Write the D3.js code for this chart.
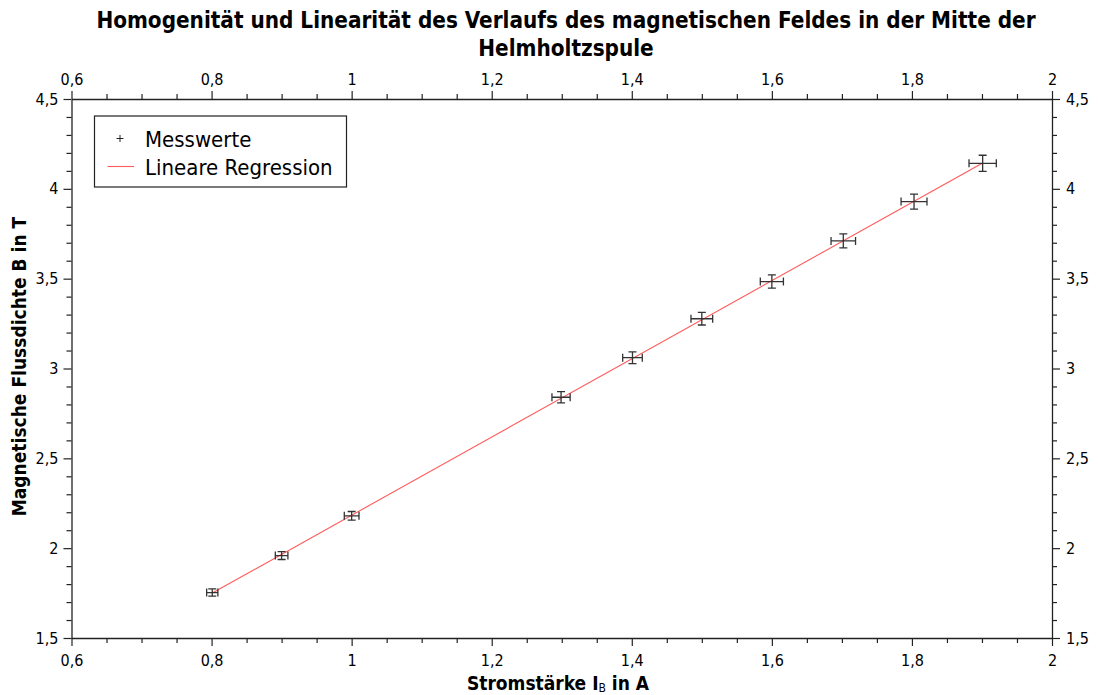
<!DOCTYPE html>
<html>
<head>
<meta charset="utf-8">
<script src="https://cdn.jsdelivr.net/npm/d3@7"></script>
<style>
  body { margin: 0; background: #fff; }
  svg { display: block; }
  text { font-family: "DejaVu Sans Condensed", "DejaVu Sans", sans-serif; fill: #000; }
</style>
</head>
<body>
<svg id="chart" width="1098" height="695"></svg>
<script>
// Measured current I_B (A) and magnetic flux density B (T) with uncertainties
const current     = [0.801, 0.900, 1.000, 1.299, 1.401, 1.500, 1.600, 1.702, 1.803, 1.901];
const fluxDensity = [1.753, 1.959, 2.180, 2.840, 3.060, 3.277, 3.484, 3.710, 3.929, 4.142];
const currentErr  = [0.008, 0.009, 0.0105, 0.013, 0.014, 0.0155, 0.0165, 0.0175, 0.0185, 0.0195];
const fluxErr     = [0.020, 0.022, 0.024, 0.031, 0.033, 0.035, 0.037, 0.039, 0.042, 0.045];

const xMajorTicks = [0.6, 0.8, 1.0, 1.2, 1.4, 1.6, 1.8, 2.0];
const yMajorTicks = [1.5, 2.0, 2.5, 3.0, 3.5, 4.0, 4.5];
const xDomain = [0.6, 2.0];
const yDomain = [1.5, 4.5];

const titleLines = [
  "Homogenität und Linearität des Verlaufs des magnetischen Feldes in der Mitte der",
  "Helmholtzspule"
];
const legendLabels = ["Messwerte", "Lineare Regression"];

const svg = d3.select("#chart");
const plot = { left: 71.5, right: 1052, top: 99, bottom: 638 };

const x = d3.scaleLinear().domain(xDomain).range([plot.left, plot.right]);
const y = d3.scaleLinear().domain(yDomain).range([plot.bottom, plot.top]);

const de = d3.formatLocale({ decimal: ",", thousands: ".", grouping: [3], currency: ["", " €"] });
const fmt = v => de.format("~g")(+v.toFixed(2));

const xMinor = d3.range(12, 41).map(i => i * 0.05).filter(v => !xMajorTicks.some(t => Math.abs(t - v) < 1e-9));
const yMinor = d3.range(15, 46).map(i => i * 0.1).filter(v => !yMajorTicks.some(t => Math.abs(t - v) < 1e-9));

function styleAxis(g) {
  g.selectAll("path.domain").attr("stroke", "#222").attr("stroke-width", 1.3);
  g.selectAll(".tick line").attr("stroke", "#222").attr("stroke-width", 1.2);
  g.selectAll(".tick text").style("font-size", "16px").attr("fill", "#111");
}

function drawAxis(axisFn, scale, major, minor, transform, pad) {
  const gMinor = svg.append("g").attr("transform", transform)
    .call(axisFn(scale).tickValues(minor).tickSize(5).tickSizeOuter(0).tickFormat(""));
  gMinor.select("path.domain").remove();
  styleAxis(gMinor);
  const g = svg.append("g").attr("transform", transform)
    .call(axisFn(scale).tickValues(major).tickSize(8).tickSizeOuter(0).tickPadding(pad).tickFormat(fmt));
  styleAxis(g);
  return g;
}

drawAxis(d3.axisBottom, x, xMajorTicks, xMinor, `translate(0,${plot.bottom})`, 9);
drawAxis(d3.axisTop, x, xMajorTicks, xMinor, `translate(0,${plot.top})`, 6);
drawAxis(d3.axisLeft, y, yMajorTicks, yMinor, `translate(${plot.left},0)`, 5);
drawAxis(d3.axisRight, y, yMajorTicks, yMinor, `translate(${plot.right},0)`, 6);

// Least-squares fit through the measured points
const mx = d3.mean(current), my = d3.mean(fluxDensity);
const slope = d3.sum(current, (v, i) => (v - mx) * (fluxDensity[i] - my)) / d3.sum(current, v => (v - mx) ** 2);
const intercept = my - slope * mx;
const fitExtent = d3.extent(current);

svg.append("path")
  .datum(fitExtent.map(v => [v, intercept + slope * v]))
  .attr("d", d3.line().x(d => x(d[0])).y(d => y(d[1])))
  .attr("fill", "none")
  .attr("stroke", "#ff5a5a")
  .attr("stroke-width", 1.1);

// Error bars
const points = current.map((v, i) => ({ i: v, b: fluxDensity[i], di: currentErr[i], db: fluxErr[i] }));
const cap = 4;
const eb = svg.append("g").attr("stroke", "#333").attr("stroke-width", 1.3).attr("fill", "none");
const pt = eb.selectAll("g").data(points).join("g");
pt.append("path").attr("d", d => {
  const x0 = x(d.i - d.di), x1 = x(d.i + d.di), yc = y(d.b);
  return `M${x0},${yc}H${x1}M${x0},${yc - cap}V${yc + cap}M${x1},${yc - cap}V${yc + cap}`;
});
pt.append("path").attr("d", d => {
  const y0 = y(d.b - d.db), y1 = y(d.b + d.db), xc = x(d.i);
  return `M${xc},${y0}V${y1}M${xc - cap},${y0}H${xc + cap}M${xc - cap},${y1}H${xc + cap}`;
});

// Legend
const legend = svg.append("g");
legend.append("rect")
  .attr("x", 94.5).attr("y", 116).attr("width", 252).attr("height", 71)
  .attr("fill", "#fff").attr("stroke", "#222").attr("stroke-width", 1.2);
legend.append("path")
  .attr("d", "M116.5,138.5H123.5M120,135V142")
  .attr("stroke", "#222").attr("stroke-width", 1);
legend.append("line")
  .attr("x1", 107.5).attr("x2", 134).attr("y1", 166.5).attr("y2", 166.5)
  .attr("stroke", "#ff5a5a").attr("stroke-width", 1.1);
legend.selectAll("text.lg").data(legendLabels).join("text")
  .attr("class", "lg")
  .attr("x", 145).attr("y", (d, k) => 146.5 + k * 28.5)
  .style("font-size", "22px")
  .text(d => d);

// Title
svg.append("g").selectAll("text").data(titleLines).join("text")
  .attr("x", 566).attr("y", (d, k) => 28 + k * 28)
  .attr("text-anchor", "middle")
  .style("font-size", "22.3px").style("font-weight", "bold")
  .text(d => d);

// Axis titles
const xt = svg.append("text")
  .attr("x", 558).attr("y", 690)
  .attr("text-anchor", "middle")
  .style("font-size", "19px").style("font-weight", "bold");
xt.append("tspan").text("Stromstärke I");
xt.append("tspan").text("B").style("font-size", "12px").style("font-weight", "normal").attr("dy", 2);
xt.append("tspan").text(" in A").attr("dy", -2);

svg.append("text")
  .attr("transform", `translate(26,${(plot.top + plot.bottom) / 2 - 2}) rotate(-90)`)
  .attr("text-anchor", "middle")
  .style("font-size", "19px").style("font-weight", "bold")
  .text("Magnetische Flussdichte B in T");
</script>
</body>
</html>
